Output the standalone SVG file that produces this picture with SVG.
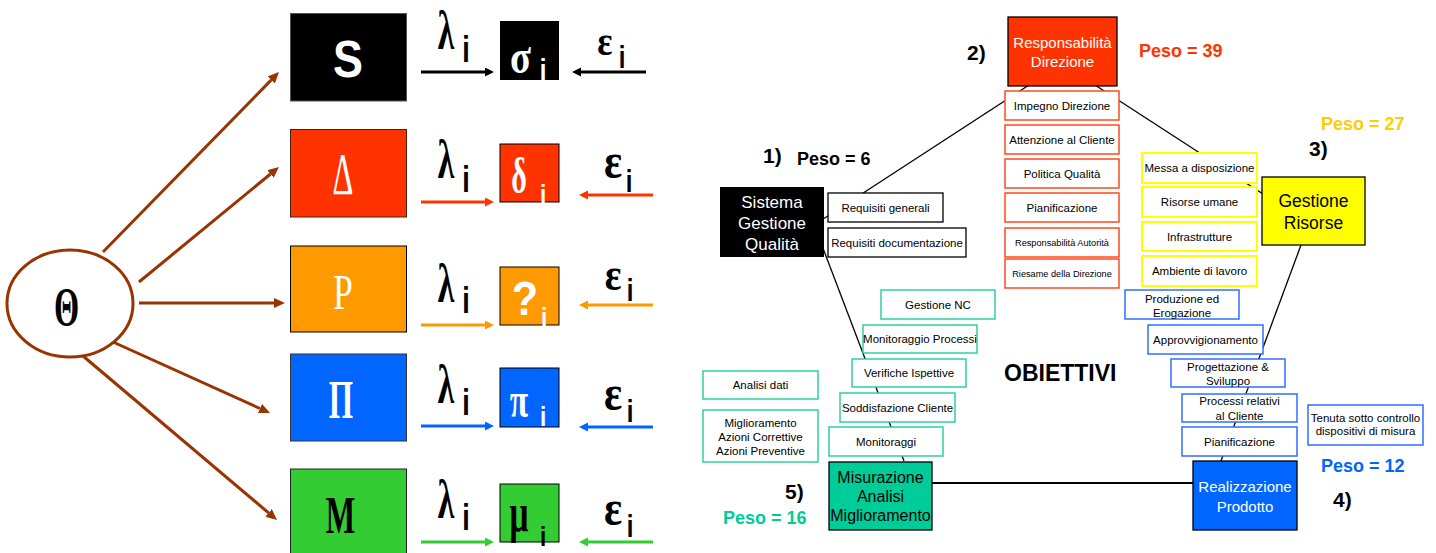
<svg xmlns="http://www.w3.org/2000/svg" width="1436" height="553" viewBox="0 0 1436 553">
<defs>
<style>
.sans{font-family:"Liberation Sans",Arial,sans-serif}
.serif{font-family:"Liberation Serif","Times New Roman",serif}
.sb{font-family:"Liberation Sans",Arial,sans-serif;font-size:11.5px;fill:#000;text-anchor:middle}
.sbs{font-family:"Liberation Sans",Arial,sans-serif;font-size:9.2px;fill:#000;text-anchor:middle}
.big{font-family:"Liberation Sans",Arial,sans-serif;text-anchor:middle}
.peso{font-family:"Liberation Sans",Arial,sans-serif;font-size:18px;font-weight:bold}
.num{font-family:"Liberation Sans",Arial,sans-serif;font-size:21px;font-weight:bold;fill:#000}
.red{fill:#fff;stroke:#FF4A1C;stroke-width:1.5}
.yel{fill:#fff;stroke:#FFFF00;stroke-width:2}
.blu{fill:#fff;stroke:#2F6FFF;stroke-width:1.5}
.tea{fill:#fff;stroke:#2ED1A0;stroke-width:1.5}
.blk{fill:#fff;stroke:#000;stroke-width:1.3}
.pent{stroke:#000;stroke-width:1.3;fill:none}
.brown{stroke:#993300;stroke-width:3;fill:none}
.sym{font-family:"Liberation Serif","Times New Roman",serif;text-anchor:middle}
.isub{font-family:"Liberation Sans",Arial,sans-serif;text-anchor:middle;font-weight:bold}
</style>
<marker id="ab" markerUnits="userSpaceOnUse" markerWidth="12" markerHeight="12" refX="0" refY="5" orient="auto"><path d="M0,0 L11,5 L0,10 Z" fill="#993300"/></marker>
<marker id="mk" markerUnits="userSpaceOnUse" markerWidth="10" markerHeight="10" refX="0" refY="4.5" orient="auto"><path d="M0,0 L9,4.5 L0,9 Z" fill="#000"/></marker>
<marker id="mr" markerUnits="userSpaceOnUse" markerWidth="10" markerHeight="10" refX="0" refY="4.5" orient="auto"><path d="M0,0 L9,4.5 L0,9 Z" fill="#FF3300"/></marker>
<marker id="mo" markerUnits="userSpaceOnUse" markerWidth="10" markerHeight="10" refX="0" refY="4.5" orient="auto"><path d="M0,0 L9,4.5 L0,9 Z" fill="#FF9900"/></marker>
<marker id="mb" markerUnits="userSpaceOnUse" markerWidth="10" markerHeight="10" refX="0" refY="4.5" orient="auto"><path d="M0,0 L9,4.5 L0,9 Z" fill="#0066FF"/></marker>
<marker id="mg" markerUnits="userSpaceOnUse" markerWidth="10" markerHeight="10" refX="0" refY="4.5" orient="auto"><path d="M0,0 L9,4.5 L0,9 Z" fill="#33CC33"/></marker>
</defs>
<rect width="1436" height="553" fill="#fff"/>

<g id="connectors">
<line class="brown" x1="103" y1="252" x2="271.3" y2="79.9" marker-end="url(#ab)"/>
<line class="brown" x1="139" y1="282" x2="270.5" y2="174" marker-end="url(#ab)"/>
<line class="brown" x1="139" y1="303" x2="274" y2="303" marker-end="url(#ab)"/>
<line class="brown" x1="113" y1="342" x2="260" y2="408.5" marker-end="url(#ab)"/>
<line class="brown" x1="83" y1="356" x2="268.6" y2="512.9" marker-end="url(#ab)"/>
<g stroke-width="3">
<line x1="421" y1="72" x2="485" y2="72" stroke="#000" marker-end="url(#mk)"/>
<line x1="646" y1="72" x2="581" y2="72" stroke="#000" marker-end="url(#mk)"/>
<line x1="421" y1="202" x2="485" y2="202" stroke="#FF3300" marker-end="url(#mr)"/>
<line x1="653" y1="195" x2="588" y2="195" stroke="#FF3300" marker-end="url(#mr)"/>
<line x1="421" y1="325" x2="485" y2="325" stroke="#FF9900" marker-end="url(#mo)"/>
<line x1="653" y1="305" x2="588" y2="305" stroke="#FF9900" marker-end="url(#mo)"/>
<line x1="421" y1="426" x2="485" y2="426" stroke="#0066FF" marker-end="url(#mb)"/>
<line x1="653" y1="427" x2="588" y2="427" stroke="#0066FF" marker-end="url(#mb)"/>
<line x1="421" y1="542" x2="485" y2="542" stroke="#33CC33" marker-end="url(#mg)"/>
<line x1="653" y1="542" x2="588" y2="542" stroke="#33CC33" marker-end="url(#mg)"/>
</g>
<line class="pent" x1="824" y1="218.5" x2="1029" y2="85"/>
<line class="pent" x1="1095" y1="85" x2="1263" y2="194"/>
<line class="pent" x1="1301" y1="245" x2="1221" y2="461"/>
<line class="pent" x1="821" y1="243" x2="904" y2="461"/>
<line x1="932" y1="483" x2="1193" y2="483" stroke="#000" stroke-width="2"/>
</g>

<g id="theta">
<ellipse cx="70" cy="303.5" rx="63" ry="53.5" fill="#fff" stroke="#993300" stroke-width="3"/>
<text class="sym" font-size="54" font-weight="bold" transform="translate(66.5,325) scale(0.6,1)">Θ</text>
</g>

<g id="box-S">
<rect x="290.5" y="13.5" width="116" height="87.5" fill="#000" stroke="#555" stroke-width="1"/>
<text class="big" font-size="51" font-weight="bold" fill="#fff" transform="translate(348,77) scale(0.88,1)">S</text>
</g>
<g id="box-D">
<rect x="290.5" y="129.5" width="116" height="87.5" fill="#FF3300" stroke="#4a2010" stroke-width="1"/>
<text class="sym" font-size="59" fill="#fff" transform="translate(343,194) scale(0.55,1)">Δ</text>
</g>
<g id="box-P">
<rect x="290.5" y="246" width="116" height="86" fill="#FF9900" stroke="#000" stroke-width="1"/>
<text class="sym" font-size="51" fill="#fff" transform="translate(343,309) scale(0.7,1)">P</text>
</g>
<g id="box-Pi">
<rect x="290.5" y="354" width="116" height="87" fill="#0066FF" stroke="#333" stroke-width="1"/>
<text class="sym" font-size="54" font-weight="bold" fill="#fff" transform="translate(341,418) scale(0.58,1)">Π</text>
</g>
<g id="box-M">
<rect x="290.5" y="469" width="116" height="86" fill="#33CC33" stroke="#222" stroke-width="1"/>
<text class="sym" font-size="52" font-weight="bold" fill="#000" transform="translate(340.5,533) scale(0.6,1)">M</text>
</g>

<g id="labels-lambda">
<g class="sym" font-size="54" font-weight="bold" fill="#000">
<text transform="translate(446,49) scale(0.62,1)">λ</text>
<text transform="translate(446,178) scale(0.62,1)">λ</text>
<text transform="translate(446,302) scale(0.62,1)">λ</text>
<text transform="translate(446,403) scale(0.62,1)">λ</text>
<text transform="translate(446,518) scale(0.62,1)">λ</text>
</g>
<g class="isub" font-size="36" fill="#000">
<text transform="translate(466,62) scale(0.75,1)">i</text>
<text transform="translate(466,192) scale(0.75,1)">i</text>
<text transform="translate(466,313) scale(0.75,1)">i</text>
<text transform="translate(466,415) scale(0.75,1)">i</text>
<text transform="translate(466,530) scale(0.75,1)">i</text>
</g>
</g>
<g id="labels-eps">
<g class="sym" fill="#000" font-weight="bold">
<text font-size="42" transform="translate(605,55) scale(0.85,1)">ε</text>
<text font-size="50" transform="translate(613,178) scale(0.85,1)">ε</text>
<text font-size="46" transform="translate(613,290) scale(0.85,1)">ε</text>
<text font-size="50" transform="translate(613,410) scale(0.85,1)">ε</text>
<text font-size="50" transform="translate(613,525) scale(0.85,1)">ε</text>
</g>
<g class="isub" font-size="32" fill="#000">
<text transform="translate(622,68) scale(0.75,1)">i</text>
<text transform="translate(629,192) scale(0.75,1)">i</text>
<text transform="translate(630,301) scale(0.75,1)">i</text>
<text transform="translate(630,422) scale(0.75,1)">i</text>
<text transform="translate(630,537) scale(0.75,1)">i</text>
</g>
</g>

<g id="small-sigma">
<rect x="500" y="21" width="59" height="59" fill="#000"/>
<text class="sym" font-size="48" font-weight="bold" fill="#fff" transform="translate(520.5,73) scale(0.8,1)">σ</text>
<text class="isub" font-size="30" fill="#fff" transform="translate(543,80) scale(0.8,1)">i</text>
</g>
<g id="small-delta">
<rect x="500" y="144" width="59" height="58" fill="#FF3300" stroke="#000" stroke-width="1"/>
<text class="sym" font-size="50" font-weight="bold" fill="#fff" transform="translate(519,193) scale(0.6,1)">δ</text>
<text class="isub" font-size="28" fill="#fff" transform="translate(543,204) scale(0.8,1)">i</text>
</g>
<g id="small-q">
<rect x="500" y="267" width="59" height="58" fill="#FF9900" stroke="#000" stroke-width="1"/>
<text class="isub" font-size="48" fill="#fff" transform="translate(525,315) scale(0.9,1)">?</text>
<text class="isub" font-size="28" fill="#fff" transform="translate(544,327) scale(0.8,1)">i</text>
</g>
<g id="small-pi">
<rect x="500" y="368" width="59" height="59" fill="#0066FF" stroke="#000" stroke-width="1"/>
<text class="sym" font-size="50" font-weight="bold" fill="#fff" transform="translate(519,417) scale(0.67,1)">π</text>
<text class="isub" font-size="28" fill="#fff" transform="translate(543,426) scale(0.8,1)">i</text>
</g>
<g id="small-mu">
<rect x="500" y="484" width="59" height="58" fill="#33CC33" stroke="#000" stroke-width="1"/>
<text class="sym" font-size="54" font-weight="bold" fill="#000" transform="translate(519,531) scale(0.62,1)">μ</text>
<text class="isub" font-size="28" fill="#000" transform="translate(543,546) scale(0.8,1)">i</text>
</g>

<g id="node-resp">
<rect x="1008" y="17" width="109" height="69" fill="#FF3300" stroke="#000" stroke-width="1.3"/>
<text class="big" font-size="15" fill="#fff" x="1062.5" y="48">Responsabilità</text>
<text class="big" font-size="15" fill="#fff" x="1062.5" y="67">Direzione</text>
</g>
<g id="node-sgq">
<rect x="720" y="187" width="104" height="70" fill="#000"/>
<text class="big" font-size="17" fill="#fff" x="772" y="208">Sistema</text>
<text class="big" font-size="17" fill="#fff" x="772" y="229">Gestione</text>
<text class="big" font-size="17" fill="#fff" x="772" y="250">Qualità</text>
</g>
<g id="node-gr">
<rect x="1262" y="177" width="103" height="68" fill="#FFFF00" stroke="#000" stroke-width="1.3"/>
<text class="big" font-size="17.5" fill="#000" x="1313.5" y="207">Gestione</text>
<text class="big" font-size="17.5" fill="#000" x="1313.5" y="229">Risorse</text>
</g>
<g id="node-rp">
<rect x="1193" y="461" width="104" height="69" fill="#0066FF" stroke="#000" stroke-width="1.3"/>
<text class="big" font-size="15" fill="#fff" x="1245" y="492">Realizzazione</text>
<text class="big" font-size="15" fill="#fff" x="1245" y="512">Prodotto</text>
</g>
<g id="node-mam">
<rect x="829" y="462" width="103" height="68" fill="#00CC99" stroke="#000" stroke-width="1.3"/>
<text class="big" font-size="16" fill="#000" x="880.5" y="483">Misurazione</text>
<text class="big" font-size="16" fill="#000" x="880.5" y="502">Analisi</text>
<text class="big" font-size="16" fill="#000" x="880.5" y="521">Miglioramento</text>
</g>

<g id="sub-sgq">
<rect class="blk" x="828" y="193" width="115" height="29"/><text class="sb" x="885.5" y="212">Requisiti generali</text>
<rect class="blk" x="828" y="228" width="138" height="29"/><text class="sb" x="897" y="247">Requisiti documentazione</text>
</g>
<g id="sub-resp">
<rect class="red" x="1005" y="91" width="114" height="29"/><text class="sb" x="1062" y="109.5">Impegno Direzione</text>
<rect class="red" x="1005" y="125" width="114" height="29"/><text class="sb" x="1062" y="143.5">Attenzione al Cliente</text>
<rect class="red" x="1005" y="159" width="114" height="29"/><text class="sb" x="1062" y="177.5">Politica Qualità</text>
<rect class="red" x="1005" y="193" width="114" height="29"/><text class="sb" x="1062" y="211.5">Pianificazione</text>
<rect class="red" x="1005" y="228" width="114" height="29"/><text class="sbs" x="1062" y="246">Responsabilità Autorità</text>
<rect class="red" x="1005" y="259" width="114" height="29"/><text class="sbs" x="1062" y="277">Riesame della Direzione</text>
</g>
<g id="sub-gr">
<rect class="yel" x="1142" y="153" width="115" height="30"/><text class="sb" x="1199.5" y="172">Messa a disposizione</text>
<rect class="yel" x="1142" y="187" width="115" height="30"/><text class="sb" x="1199.5" y="206">Risorse umane</text>
<rect class="yel" x="1142" y="222" width="115" height="29"/><text class="sb" x="1199.5" y="240.5">Infrastrutture</text>
<rect class="yel" x="1142" y="256" width="115" height="30"/><text class="sb" x="1199.5" y="275">Ambiente di lavoro</text>
</g>
<g id="sub-rp">
<rect class="blu" x="1125" y="290" width="114" height="29"/><text class="sb" x="1182" y="303">Produzione ed</text><text class="sb" x="1182" y="317">Erogazione</text>
<rect class="blu" x="1148" y="325" width="115" height="29"/><text class="sb" x="1205.5" y="343.5">Approvvigionamento</text>
<rect class="blu" x="1171" y="359" width="114" height="28"/><text class="sb" x="1228" y="371">Progettazione &amp;</text><text class="sb" x="1228" y="385">Sviluppo</text>
<rect class="blu" x="1182" y="394" width="115" height="28"/><text class="sb" x="1239.5" y="405">Processi relativi</text><text class="sb" x="1239.5" y="420">al Cliente</text>
<rect class="blu" x="1182" y="427" width="115" height="29"/><text class="sb" x="1239.5" y="445.5">Pianificazione</text>
<rect class="blu" x="1308" y="405" width="115" height="40"/><text class="sb" x="1365.5" y="422">Tenuta sotto controllo</text><text class="sb" x="1365.5" y="435">dispositivi di misura</text>
</g>
<g id="sub-mam">
<rect class="tea" x="881" y="290" width="114" height="29"/><text class="sb" x="938" y="308.5">Gestione NC</text>
<rect class="tea" x="863" y="325" width="114" height="28"/><text class="sb" x="920" y="343">Monitoraggio Processi</text>
<rect class="tea" x="852" y="359" width="114" height="28"/><text class="sb" x="909" y="377">Verifiche Ispettive</text>
<rect class="tea" x="840" y="393" width="115" height="29"/><text class="sb" x="897.5" y="411.5">Soddisfazione Cliente</text>
<rect class="tea" x="829" y="427" width="114" height="29"/><text class="sb" x="886" y="445.5">Monitoraggi</text>
<rect class="tea" x="703" y="371" width="115" height="28"/><text class="sb" x="760.5" y="389">Analisi dati</text>
<rect class="tea" x="703" y="410" width="115" height="52"/><text class="sb" x="760.5" y="427">Miglioramento</text><text class="sb" x="760.5" y="441">Azioni Correttive</text><text class="sb" x="760.5" y="455">Azioni Preventive</text>
</g>

<g id="annotations">
<text class="num" x="763" y="163">1)</text>
<text class="peso" x="797" y="165" fill="#000">Peso = 6</text>
<text class="num" x="967" y="60">2)</text>
<text class="peso" x="1139" y="57" fill="#FF3300">Peso = 39</text>
<text class="num" x="1309" y="156">3)</text>
<text class="peso" x="1321" y="130" fill="#FFCC00">Peso = 27</text>
<text class="num" x="1333" y="507">4)</text>
<text class="peso" x="1321" y="472" fill="#0066FF">Peso = 12</text>
<text class="num" x="785" y="499">5)</text>
<text class="peso" x="723" y="524" fill="#00CC99">Peso = 16</text>
<text class="sans" x="1004" y="381" font-size="23" font-weight="bold" fill="#000">OBIETTIVI</text>
</g>
</svg>
